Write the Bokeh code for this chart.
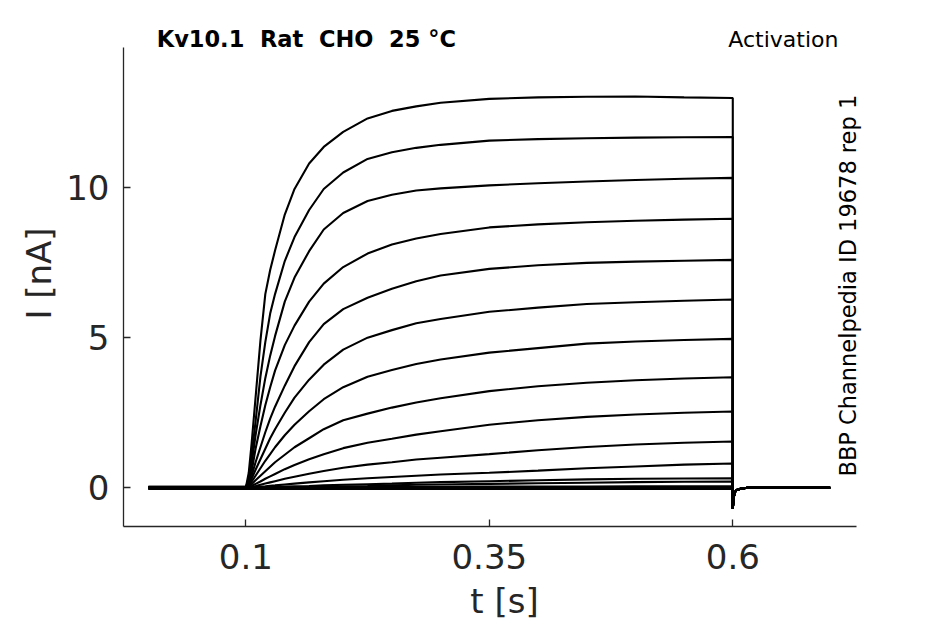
import math
from bokeh.plotting import figure
from bokeh.models import FixedTicker, Label, Range1d
from bokeh.embed import file_html
from bokeh.resources import INLINE

# time points of the voltage step (s)
T_STEP = [0.0, 0.1, 0.103, 0.106, 0.11, 0.115, 0.12, 0.125, 0.13, 0.14, 0.15,
          0.165, 0.18, 0.2, 0.225, 0.25, 0.275, 0.3, 0.35, 0.4, 0.45, 0.5, 0.55, 0.6]

# current (nA) of each sweep at T_STEP
TRACE_01 = [0.0, 0.0, 0.5, 1.5, 3.0, 4.9, 6.45, 7.25, 7.9, 9.1, 9.95, 10.8, 11.35,
            11.85, 12.3, 12.55, 12.7, 12.82, 12.95, 13.0, 13.02, 13.03, 13.0, 12.98]
TRACE_02 = [0.0, 0.0, 0.35, 1.1, 2.2, 3.7, 4.85, 5.8, 6.45, 7.55, 8.35, 9.25, 9.95,
            10.5, 10.95, 11.17, 11.32, 11.42, 11.56, 11.61, 11.64, 11.66, 11.67, 11.68]
TRACE_03 = [0.02, 0.02, 0.25, 0.8, 1.75, 2.75, 3.65, 4.4, 5.05, 6.2, 7.0, 7.88, 8.6,
            9.15, 9.55, 9.76, 9.9, 9.97, 10.07, 10.14, 10.2, 10.25, 10.29, 10.32]
TRACE_04 = [0.0, 0.0, 0.2, 0.55, 1.3, 2.05, 2.75, 3.35, 3.9, 4.75, 5.4, 6.2, 6.8,
            7.35, 7.8, 8.1, 8.3, 8.45, 8.67, 8.77, 8.84, 8.89, 8.93, 8.96]
TRACE_05 = [-0.02, -0.02, 0.15, 0.4, 0.85, 1.35, 1.85, 2.3, 2.7, 3.4, 4.05, 4.85, 5.45,
            5.95, 6.33, 6.63, 6.88, 7.07, 7.29, 7.41, 7.49, 7.53, 7.56, 7.59]
TRACE_06 = [0.0, 0.0, 0.1, 0.3, 0.6, 0.95, 1.3, 1.65, 1.95, 2.5, 3.0, 3.6, 4.1,
            4.6, 5.0, 5.25, 5.48, 5.62, 5.86, 6.0, 6.12, 6.18, 6.23, 6.27]
TRACE_07 = [0.03, 0.03, 0.07, 0.2, 0.4, 0.65, 0.9, 1.12, 1.35, 1.75, 2.1, 2.55, 2.95,
            3.35, 3.7, 3.92, 4.12, 4.27, 4.5, 4.65, 4.8, 4.87, 4.92, 4.96]
TRACE_08 = [0.0, 0.0, 0.04, 0.12, 0.25, 0.4, 0.55, 0.7, 0.85, 1.1, 1.35, 1.65, 1.95,
            2.25, 2.47, 2.67, 2.84, 2.98, 3.22, 3.38, 3.5, 3.58, 3.64, 3.68]
TRACE_09 = [-0.03, -0.03, 0.02, 0.06, 0.13, 0.21, 0.3, 0.38, 0.46, 0.62, 0.76, 0.95, 1.12,
            1.32, 1.5, 1.63, 1.77, 1.88, 2.1, 2.25, 2.36, 2.44, 2.5, 2.54]
TRACE_10 = [0.0, 0.0, 0.01, 0.03, 0.06, 0.1, 0.14, 0.18, 0.22, 0.3, 0.37, 0.47, 0.56,
            0.67, 0.77, 0.85, 0.94, 1.0, 1.12, 1.25, 1.36, 1.44, 1.5, 1.54]
TRACE_11 = [0.02, 0.02, 0.0, 0.01, 0.02, 0.04, 0.05, 0.07, 0.08, 0.11, 0.14, 0.18, 0.22,
            0.27, 0.32, 0.36, 0.4, 0.44, 0.5, 0.57, 0.65, 0.71, 0.77, 0.81]
TRACE_12 = [0.0, 0.0, 0.0, 0.0, 0.01, 0.01, 0.02, 0.02, 0.03, 0.04, 0.05, 0.06, 0.08,
            0.1, 0.12, 0.14, 0.17, 0.19, 0.22, 0.25, 0.28, 0.3, 0.31, 0.32]
TRACE_13 = [-0.02, -0.02, -0.02, -0.01, 0.0, 0.0, 0.0, 0.01, 0.01, 0.01, 0.02, 0.03, 0.04,
            0.05, 0.06, 0.08, 0.1, 0.11, 0.13, 0.15, 0.17, 0.19, 0.2, 0.21]
TRACE_14 = [0.0, 0.0, 0.0, 0.0, 0.0, 0.0, 0.0, 0.0, 0.0, 0.01, 0.01, 0.01, 0.02,
            0.02, 0.02, 0.03, 0.03, 0.03, 0.04, 0.04, 0.04, 0.05, 0.05, 0.05]
TRACE_15 = [0.03, 0.03, 0.02, 0.02, 0.02, 0.01, 0.01, 0.01, 0.01, 0.0, 0.0, 0.0, 0.0,
            0.0, 0.0, 0.0, 0.0, 0.0, 0.0, 0.0, 0.0, 0.0, 0.0, 0.0]
TRACE_16 = [-0.04, -0.04, -0.04, -0.04, -0.04, -0.04, -0.04, -0.04, -0.04, -0.04, -0.04, -0.04, -0.04,
            -0.04, -0.04, -0.04, -0.04, -0.04, -0.04, -0.04, -0.04, -0.04, -0.04, -0.04]
TRACES = [TRACE_01, TRACE_02, TRACE_03, TRACE_04, TRACE_05, TRACE_06, TRACE_07, TRACE_08,
          TRACE_09, TRACE_10, TRACE_11, TRACE_12, TRACE_13, TRACE_14, TRACE_15, TRACE_16]

# tail after the step back to holding potential
T_TAIL = [0.6, 0.6008, 0.602, 0.604, 0.608, 0.615, 0.7]
I_TAIL = [-0.7, -0.35, -0.15, -0.07, -0.03, 0.0, 0.0]

X_TICKS = [0.1, 0.35, 0.6]
X_TICK_LABELS = ["0.1", "0.35", "0.6"]
Y_TICKS = [0, 5, 10]
Y_TICK_LABELS = ["0", "5", "10"]

X_AXIS_LIMITS = (-0.0256, 0.727)
Y_AXIS_LIMITS = (-1.289, 14.67)

TITLE_LEFT = "Kv10.1\u00a0 Rat\u00a0 CHO\u00a0 25 °C"
TITLE_RIGHT = "Activation"
SIDE_NOTE = "BBP Channelpedia ID 19678 rep 1"

FONT = "DejaVu Sans"
AX = "#262626"

p = figure(width=945, height=624, output_backend="svg", toolbar_location=None,
           x_range=Range1d(-0.0256, 0.7568), y_range=Range1d(-1.289, 15.56),
           min_border_left=123, min_border_right=60, min_border_top=20, min_border_bottom=98)
p.outline_line_color = None
p.xgrid.visible = False
p.ygrid.visible = False
p.background_fill_color = "white"
p.border_fill_color = "white"

xs = [T_STEP + T_TAIL for _ in TRACES]
ys = [tr + I_TAIL for tr in TRACES]
p.multi_line(xs=xs, ys=ys, line_color="black", line_width=2.1)

for ax in (p.xaxis[0], p.yaxis[0]):
    ax.axis_line_color = AX
    ax.axis_line_width = 1.3
    ax.major_tick_line_color = AX
    ax.major_tick_line_width = 1.3
    ax.major_tick_in = 7
    ax.major_tick_out = 0
    ax.minor_tick_line_color = None
    ax.major_label_text_font = FONT
    ax.major_label_text_font_size = "34px"
    ax.major_label_text_color = AX
    ax.axis_label_text_font = FONT
    ax.axis_label_text_font_size = "34px"
    ax.axis_label_text_font_style = "normal"
    ax.axis_label_text_color = AX

p.xaxis.bounds = X_AXIS_LIMITS
p.yaxis.bounds = Y_AXIS_LIMITS
p.xaxis.ticker = FixedTicker(ticks=X_TICKS)
p.xaxis.major_label_overrides = dict(zip(X_TICKS, X_TICK_LABELS))
p.yaxis.ticker = FixedTicker(ticks=Y_TICKS)
p.yaxis.major_label_overrides = dict(zip(Y_TICKS, Y_TICK_LABELS))
p.xaxis.axis_label = "t [s]"
p.yaxis.axis_label = "I [nA]"
p.xaxis.major_label_standoff = 17
p.xaxis.axis_label_standoff = 9
p.yaxis.major_label_standoff = 14
p.yaxis.axis_label_standoff = 4

p.add_layout(Label(x=0.0085, y=14.94, text=TITLE_LEFT, text_font=FONT,
                   text_font_style="bold", text_font_size="22.5px", text_color="black",
                   text_align="left", text_baseline="alphabetic"))
p.add_layout(Label(x=0.7085, y=14.94, text=TITLE_RIGHT, text_font=FONT,
                   text_font_size="22px", text_color="black", text_align="right",
                   text_baseline="alphabetic"))
p.add_layout(Label(x=0.7185, y=6.73, text=SIDE_NOTE, text_font=FONT, angle=math.pi / 2,
                   text_font_size="22.5px", text_color="black", text_align="center",
                   text_baseline="middle"))

open("out.html", "w").write(file_html(p, INLINE))
